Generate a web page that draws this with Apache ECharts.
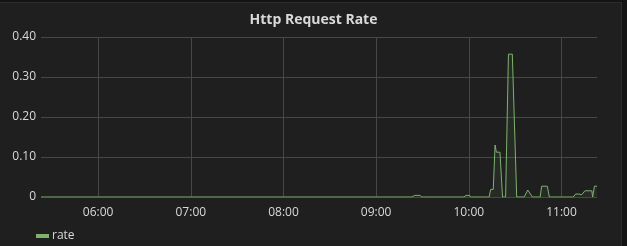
<!DOCTYPE html>
<html>
<head>
<meta charset="utf-8">
<script src="https://cdn.jsdelivr.net/npm/echarts@6/dist/echarts.min.js"></script>
<style>
  html, body { margin: 0; padding: 0; width: 627px; height: 246px; overflow: hidden; background: #141414; }
  #panel { position: absolute; left: -2px; top: 2px; width: 624px; height: 250px; background: #1f1f1f; border: 1px solid #2c2c2c; box-sizing: border-box; }
  #chart { position: absolute; left: 0; top: 0; width: 627px; height: 246px; }
</style>
</head>
<body>
<div id="panel"></div>
<div id="chart"></div>
<script>
// ---- data ----
const day = '2018-01-01';
const times = [
  '05:23:00', '09:23:10', '09:24:50', '09:28:20', '09:29:40',
  '09:56:50', '09:58:10', '10:00:20', '10:01:40',
  '10:13:10', '10:14:10', '10:15:50', '10:17:00', '10:17:50', '10:20:10', '10:21:50',
  '10:23:50', '10:25:40', '10:28:10', '10:31:00',
  '10:35:50', '10:38:10', '10:39:00', '10:41:10',
  '10:46:10', '10:47:10', '10:50:50', '10:52:10',
  '11:07:40', '11:09:10', '11:10:50', '11:12:00', '11:13:10', '11:15:10', '11:19:40', '11:20:10',
  '11:21:20', '11:23:00'
];
const rate = [
  0, 0, 0.004, 0.004, 0,
  0, 0.004, 0.004, 0,
  0, 0.019, 0.019, 0.13, 0.112, 0.112, 0,
  0, 0.357, 0.357, 0,
  0, 0.0175, 0.0175, 0,
  0, 0.027, 0.027, 0,
  0, 0.0075, 0.0075, 0.006, 0.006, 0.0155, 0.0155, 0,
  0.027, 0.027
];
const yTicks = [0, 0.1, 0.2, 0.3, 0.4];
const xStart = '05:23:00';
const xEnd = '11:23:00';
const title = 'Http Request Rate';
const seriesName = 'rate';

const toTs = t => new Date(day + 'T' + t).getTime();
const seriesData = times.map((t, i) => [toTs(t), rate[i]]);
const pad = n => (n < 10 ? '0' : '') + n;

const chart = echarts.init(document.getElementById('chart'), null, { renderer: 'canvas' });
chart.setOption({
  backgroundColor: 'transparent',
  animation: false,
  textStyle: { fontFamily: 'Open Sans, sans-serif' },
  title: {
    text: title,
    left: 'center',
    top: 8,
    textStyle: { color: '#d8d9da', fontSize: 14, fontWeight: 'bold', fontFamily: 'Open Sans, sans-serif' }
  },
  legend: {
    left: 31,
    top: 225,
    itemWidth: 13,
    itemHeight: 4,
    itemGap: 5,
    icon: 'rect',
    data: [{ name: seriesName }],
    textStyle: { color: '#d8d9da', fontSize: 12, padding: [0, 0, 0, -2] }
  },
  grid: { left: 41, right: 30, top: 37, bottom: 49, containLabel: false },
  xAxis: {
    type: 'time',
    min: toTs(xStart),
    max: toTs(xEnd),
    interval: 3600 * 1000,
    minInterval: 3600 * 1000,
    axisLine: { show: false },
    axisTick: { show: false },
    splitLine: { show: true, showMinLine: false, showMaxLine: false, lineStyle: { color: '#474747', width: 1 } },
    axisLabel: {
      color: '#d8d9da',
      fontSize: 12,
      margin: 10,
      showMinLabel: false,
      showMaxLabel: false,
      formatter: v => { const d = new Date(v); return pad(d.getHours()) + ':' + pad(d.getMinutes()); }
    }
  },
  yAxis: {
    type: 'value',
    min: yTicks[0],
    max: yTicks[yTicks.length - 1],
    interval: 0.1,
    axisLine: { show: false },
    axisTick: { show: false },
    splitLine: { show: true, lineStyle: { color: '#474747', width: 1 } },
    axisLabel: {
      color: '#d8d9da',
      fontSize: 12,
      margin: 5,
      formatter: v => (v === 0 ? '0' : v.toFixed(2))
    }
  },
  series: [{
    name: seriesName,
    type: 'line',
    data: seriesData,
    showSymbol: false,
    symbol: 'none',
    color: '#7eb26d',
    lineStyle: { color: '#7eb26d', width: 1 },
    areaStyle: { color: 'rgba(126,178,109,0.12)' }
  }]
});
</script>
</body>
</html>
